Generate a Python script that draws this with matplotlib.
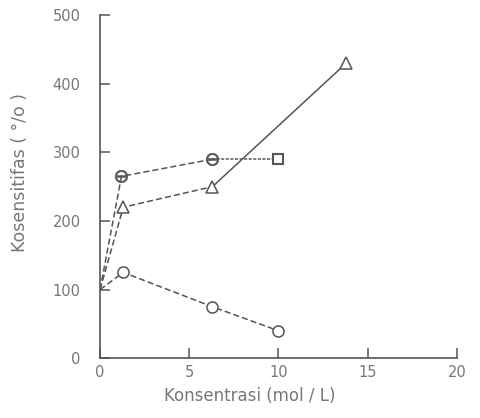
import matplotlib.pyplot as plt

# data
x_circle = [0, 1.3, 6.3, 10]
y_circle = [100, 125, 75, 40]

x_theta = [0, 1.2, 6.3, 10]
y_theta = [100, 265, 290, 290]

x_tri = [0, 1.3, 6.3, 13.8]
y_tri = [100, 220, 250, 430]

xticks = [0, 5, 10, 15, 20]
yticks = [0, 100, 200, 300, 400, 500]

ink = "#555555"
txt = "#777777"

fig = plt.figure(figsize=(4.81, 4.18), dpi=100)
ax = fig.add_axes([0.208, 0.143, 0.742, 0.821])

# open circles, dashed (no marker at the common origin point)
ax.plot(x_circle, y_circle, linestyle=(0, (4, 2)), color=ink, lw=1.1,
        marker="o", markersize=8, markerfacecolor="white", markeredgecolor=ink,
        markeredgewidth=1.1, markevery=[1, 2, 3])

# circle with bar, dashed then dotted
ax.plot(x_theta[:3], y_theta[:3], linestyle=(0, (4, 2)), color=ink, lw=1.1)
ax.plot(x_theta[2:], y_theta[2:], linestyle=(0, (2, 1)), color=ink, lw=1.1)
ax.plot(x_theta[1:3], y_theta[1:3], linestyle="none", marker="$\\ominus$",
        markersize=9, color=ink, markeredgewidth=0.5)
ax.plot(x_theta[3:], y_theta[3:], linestyle="none", marker="s", markersize=7,
        markerfacecolor="white", markeredgecolor=ink, markeredgewidth=1.5)

# triangles, dashed then solid
ax.plot(x_tri[:3], y_tri[:3], linestyle=(0, (4, 2)), color=ink, lw=1.1)
ax.plot(x_tri[2:], y_tri[2:], linestyle="-", color=ink, lw=1.1)
ax.plot(x_tri[1:], y_tri[1:], linestyle="none", marker="^", markersize=8,
        markerfacecolor="white", markeredgecolor=ink, markeredgewidth=1.1)

ax.set_xlim(0, 20)
ax.set_ylim(0, 500)
ax.set_xticks(xticks)
ax.set_yticks(yticks)
ax.spines["top"].set_visible(False)
ax.spines["right"].set_visible(False)
for s in ("left", "bottom"):
    ax.spines[s].set_color(ink)
    ax.spines[s].set_linewidth(1.2)
ax.tick_params(direction="in", length=7, width=1.1, colors=ink,
               labelcolor=txt, labelsize=10.5)
ax.tick_params(axis="y", pad=14)
ax.tick_params(axis="x", pad=5)

ax.set_xlabel("Konsentrasi (mol / L)", color=txt, fontsize=12)
ax.set_ylabel("Kosensitifas ( °/o )", color=txt, fontsize=12.5)
ax.xaxis.set_label_coords(0.42, -0.085)
ax.yaxis.set_label_coords(-0.2, 0.54)

fig.savefig("out.png", dpi=100)
